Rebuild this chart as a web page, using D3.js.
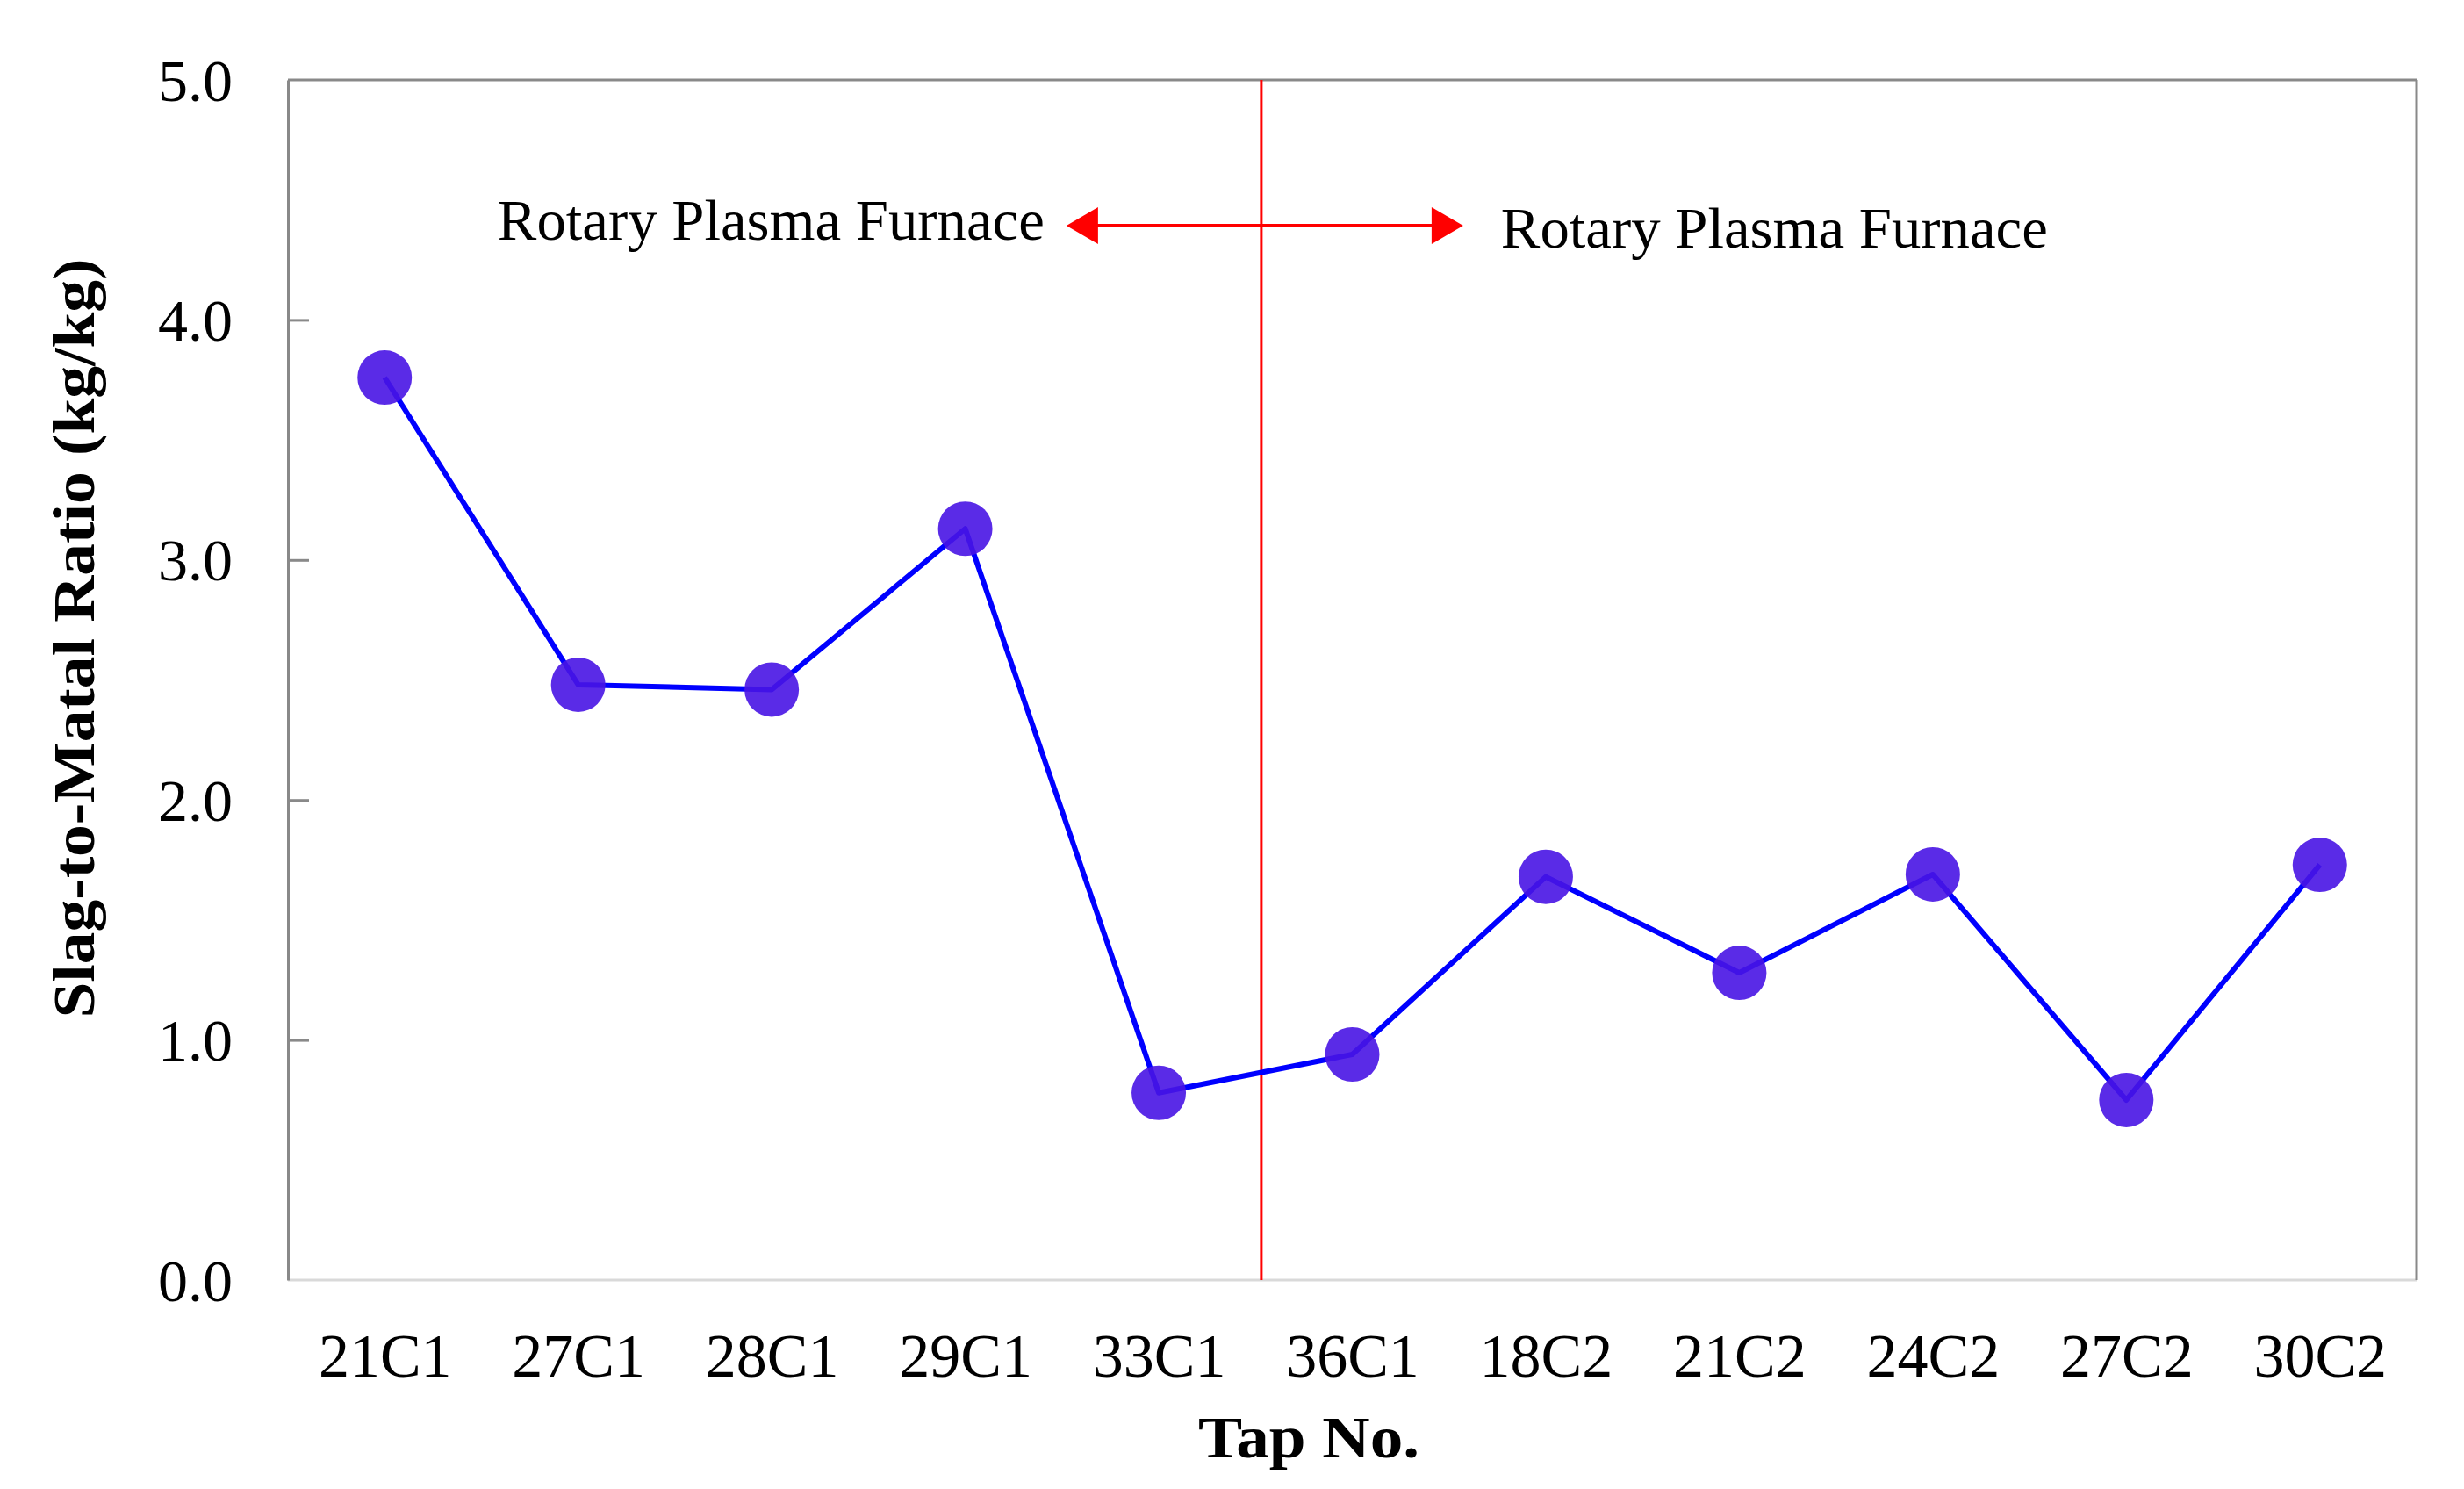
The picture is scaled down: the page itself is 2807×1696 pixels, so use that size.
<!DOCTYPE html>
<html>
<head>
<meta charset="utf-8">
<script src="https://cdn.jsdelivr.net/npm/d3@7"></script>
<style>
  html, body { margin: 0; padding: 0; background: #fff; }
  svg { display: block; }
  text { font-family: "Liberation Serif", "Times New Roman", serif; fill: #000; }
</style>
</head>
<body>
<svg id="chart" width="2807" height="1696"></svg>
<script>
// ---- data ----
const categories = ["21C1", "27C1", "28C1", "29C1", "33C1", "36C1", "18C2", "21C2", "24C2", "27C2", "30C2"];
const ratioValues = [3.76, 2.48, 2.46, 3.13, 0.78, 0.94, 1.68, 1.28, 1.69, 0.75, 1.73];
const yTicks = [0, 1, 2, 3, 4, 5];
const yTickLabels = ["0.0", "1.0", "2.0", "3.0", "4.0", "5.0"];
const dividerBetween = ["33C1", "36C1"];
const dividerFraction = 0.53;
const annotationLeft = "Rotary Plasma Furnace";
const annotationRight = "Rotary Plasma Furnace";
const xTitle = "Tap No.";
const yTitle = "Slag-to-Matal Ratio (kg/kg)";

// ---- layout ----
const L = 328, R = 2753, T = 91, B = 1458;
const svg = d3.select("#chart");

const x = d3.scalePoint().domain(categories).range([L, R]).padding(0.5);
const y = d3.scaleLinear().domain([0, 5]).range([B, T]);

// frame
const frame = svg.append("g");
frame.append("line").attr("x1", L).attr("x2", R).attr("y1", B).attr("y2", B)
  .attr("stroke", "#d9d9d9").attr("stroke-width", 3);
frame.append("line").attr("x1", L).attr("x2", R).attr("y1", T).attr("y2", T)
  .attr("stroke", "#898989").attr("stroke-width", 3);
frame.append("line").attr("x1", R).attr("x2", R).attr("y1", T).attr("y2", B)
  .attr("stroke", "#898989").attr("stroke-width", 3);

// y axis (inward ticks)
const yAxis = d3.axisLeft(y).tickValues(yTicks).tickSizeInner(-24).tickSizeOuter(0).tickPadding(86)
  .tickFormat((d, i) => yTickLabels[i]);
const gy = svg.append("g").attr("transform", `translate(${L},0)`).call(yAxis);
gy.select(".domain").attr("stroke", "#898989").attr("stroke-width", 3);
gy.selectAll(".tick line").attr("stroke", "#898989").attr("stroke-width", 3)
  .filter(d => d === 0 || d === 5).remove();
gy.selectAll(".tick text").attr("font-size", 68).attr("font-family", "Liberation Serif, Times New Roman, serif")
  .attr("dy", "0.34em").attr("x", -63).attr("text-anchor", "end");

// x axis labels (no ticks)
const xAxis = d3.axisBottom(x).tickSize(0).tickPadding(0);
const gx = svg.append("g").attr("transform", `translate(0,${B})`).call(xAxis);
gx.select(".domain").remove();
gx.selectAll(".tick text").attr("font-size", 70).attr("font-family", "Liberation Serif, Times New Roman, serif")
  .attr("dy", 0).attr("y", 110);

// axis titles
svg.append("text").attr("x", 1491).attr("y", 1660).attr("text-anchor", "middle")
  .attr("font-size", 68).attr("font-weight", "bold")
  .attr("textLength", 252).attr("lengthAdjust", "spacingAndGlyphs").text(xTitle);
svg.append("text").attr("transform", `translate(107,727) rotate(-90)`).attr("text-anchor", "middle")
  .attr("font-size", 67).attr("font-weight", "bold")
  .attr("textLength", 865).attr("lengthAdjust", "spacingAndGlyphs").text(yTitle);

// divider
const xd = x(dividerBetween[0]) + (x(dividerBetween[1]) - x(dividerBetween[0])) * dividerFraction;
svg.append("line").attr("x1", xd).attr("x2", xd).attr("y1", T).attr("y2", B)
  .attr("stroke", "#ff0000").attr("stroke-width", 3);

// arrows
const ay = 257;
const leftTip = xd - 222, rightTip = xd + 230;
svg.append("line").attr("x1", leftTip + 30).attr("x2", rightTip - 30).attr("y1", ay).attr("y2", ay)
  .attr("stroke", "#ff0000").attr("stroke-width", 4);
svg.append("path").attr("d", `M${leftTip},${ay} L${leftTip + 36},${ay - 21} L${leftTip + 36},${ay + 21} Z`).attr("fill", "#ff0000");
svg.append("path").attr("d", `M${rightTip},${ay} L${rightTip - 36},${ay - 21} L${rightTip - 36},${ay + 21} Z`).attr("fill", "#ff0000");

// annotations
svg.append("text").attr("x", xd - 247).attr("y", 273).attr("text-anchor", "end")
  .attr("font-size", 66).attr("textLength", 623).attr("lengthAdjust", "spacingAndGlyphs").text(annotationLeft);
svg.append("text").attr("x", xd + 273).attr("y", 282).attr("text-anchor", "start")
  .attr("font-size", 66).attr("textLength", 623).attr("lengthAdjust", "spacingAndGlyphs").text(annotationRight);

// series line
const line = d3.line().x((d, i) => x(categories[i])).y(d => y(d));
svg.append("path").datum(ratioValues).attr("d", line)
  .attr("fill", "none").attr("stroke", "#0000ff").attr("stroke-width", 6).attr("stroke-linejoin", "round");

// markers
svg.append("g").selectAll("circle").data(ratioValues).join("circle")
  .attr("cx", (d, i) => x(categories[i])).attr("cy", d => y(d)).attr("r", 31)
  .attr("fill", "#4814e4").attr("fill-opacity", 0.9);
</script>
</body>
</html>
